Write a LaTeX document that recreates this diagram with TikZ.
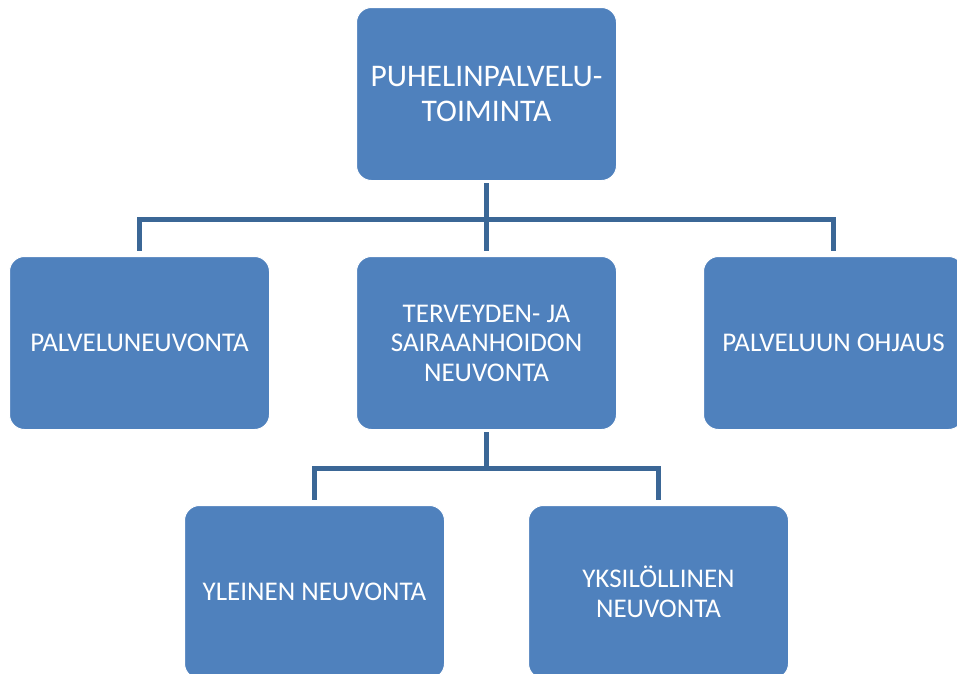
\documentclass[tikz,border=0pt]{standalone}
\usepackage{fontspec}
\setmainfont{Carlito}
\usepackage{xcolor}
\usetikzlibrary{positioning}

\definecolor{boxblue}{HTML}{4F81BD}
\definecolor{linkblue}{HTML}{3B6796}

\begin{document}
\begin{tikzpicture}[
    x=1pt,y=-1pt,
    unit/.style={fill=boxblue,draw=white,line width=1pt,rounded corners=15pt,align=center,
      minimum width=260pt,minimum height=173pt,text=white,font=\fontsize{27}{29.5}\selectfont},
    link/.style={draw=linkblue,line width=5pt,shorten <=2pt,shorten >=5pt}
  ]
    \useasboundingbox (0,0) rectangle (957,673);
    \node[unit,font=\fontsize{31.5}{35}\selectfont] (head) at (486.5,94) {PUHELINPALVELU-\\TOIMINTA};
    \node[unit,below=75pt of head] (health) {TERVEYDEN- JA\\SAIRAANHOIDON\\NEUVONTA};
    \node[unit,left=86pt of health] (service) {PALVELUNEUVONTA};
    \node[unit,right=86pt of health] (guide) {PALVELUUN OHJAUS};
    \node[unit,below=75pt of health,xshift=-172pt] (general) {YLEINEN NEUVONTA};
    \node[unit,below=75pt of health,xshift=172pt] (personal) {YKSILÖLLINEN\\NEUVONTA};

    \draw[link] (head) -- (health);
    \draw[link] (head.south) -- ++(0,38) -| (service.north);
    \draw[link] (head.south) -- ++(0,38) -| (guide.north);
    \draw[link] (health.south) -- ++(0,38) -| (general.north);
    \draw[link] (health.south) -- ++(0,38) -| (personal.north);
\end{tikzpicture}
\end{document}
